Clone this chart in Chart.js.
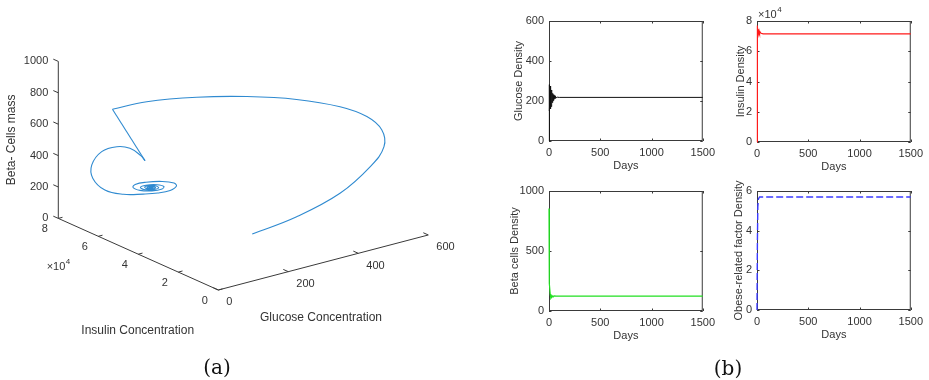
<!DOCTYPE html>
<html>
<head>
<meta charset="utf-8">
<script src="https://cdn.jsdelivr.net/npm/chart.js@4.4.1/dist/chart.umd.min.js"></script>
<style>
  body { margin: 0; background: #fff; width: 929px; height: 380px; position: relative; overflow: hidden; }
  canvas { position: absolute; }
  .cap { position: absolute; font-family: 'DejaVu Serif', serif; font-size: 20px; line-height: 20px; color: #111; transform: translateX(-50%); }
</style>
</head>
<body>
<canvas id="fase" width="460" height="380" style="left:0;top:0"></canvas>
<canvas id="glucosa"></canvas>
<canvas id="insulina"></canvas>
<canvas id="beta"></canvas>
<canvas id="obesidad"></canvas>
<div class="cap" style="left:217px;top:357px">(a)</div>
<div class="cap" style="left:728px;top:358px">(b)</div>

<script>
// Trayectoria 3D: glucosa, insulina, masa de celulas beta (arco, esquina, espiral)
const trajGlucose = [97, 241, 382, 485, 542, 553, 533, 485, 395, 293, 190, 87, 29,
  225, 212, 176, 133, 84, 50, 47, 76, 129,
  194, 236, 271, 289, 282, 248, 202, 171, 165, 185, 219, 248, 253, 233, 202, 186,
  196, 222, 238, 231, 211, 198, 208, 225, 229, 216, 205, 213, 222, 215, 211, 215];
const trajInsulin = [0, 3000, 6000, 9000, 12000, 15000, 19000, 24000, 30000, 37000, 44000, 51000, 58000,
  76000, 76000, 75000, 74000, 73000, 72000, 71000, 70000, 70000,
  71500, 71500, 71500, 71500, 71500, 71500, 71500, 71500, 71500, 71500, 71500, 71500, 71500, 71500, 71500, 71500,
  71500, 71500, 71500, 71500, 71500, 71500, 71500, 71500, 71500, 71500, 71500, 71500, 71500, 71500, 71500, 71500];
const trajBeta = [300, 309, 359, 450, 528, 611, 685, 747, 812, 850, 866, 858, 804,
  259, 300, 372, 413, 416, 357, 280, 193, 135,
  90, 72, 68, 86, 109, 139, 161, 165, 149, 119, 96, 91, 104, 127, 142, 138,
  118, 102, 103, 120, 133, 131, 115, 106, 112, 125, 126, 114, 112, 121, 120, 115];
const cornerIdx = 12;

const glucoseTicks3d = [0, 200, 400, 600];
const insulinTicks3d = [0, 20000, 40000, 60000, 80000];
const betaTicks3d = [0, 200, 400, 600, 800, 1000];

// Series temporales (dias)
const dayTicks = [0, 500, 1000, 1500];
const glucoseDays = [0, 1, 2, 3, 5, 8, 11, 14, 17, 20, 23, 26, 29, 32, 36, 40, 44, 48, 53, 58, 64, 70, 80, 100, 1500];
const glucoseVals = [0, 60, 110, 180, 282, 150, 275, 160, 265, 172, 255, 182, 246, 192, 238, 202, 232, 207, 227, 212, 223, 216, 219, 218, 218];
const glucoseTicks = [0, 200, 400, 600];
const insulinDays = [0, 1, 2, 3, 4, 6, 8, 10, 13, 16, 20, 25, 30, 40, 60, 1500];
const insulinVals = [0, 40000, 62000, 74000, 77000, 73000, 76000, 71500, 74500, 71800, 73500, 72000, 72800, 71900, 71500, 71500];
const insulinTicks = [0, 20000, 40000, 60000, 80000];
const betaDays = [0, 1, 2, 6, 12, 18, 24, 30, 38, 50, 70, 1500];
const betaVals = [855, 600, 330, 230, 140, 105, 112, 128, 120, 126, 124, 124];
const betaTicks = [0, 500, 1000];
const obeseDays = [0, 4, 8, 14, 25, 1500];
const obeseVals = [0, 3.5, 5.2, 5.6, 5.7, 5.7];
const obeseTicks = [0, 2, 4, 6];

const FONT = "11px 'Liberation Sans', Arial, sans-serif";
const FONT12 = "12px 'Liberation Sans', Arial, sans-serif";
const TXT = '#333';
const AXIS = '#3a3a3a';

// vista oblicua: pixel = origen + g*eje_g + i*eje_i + b*eje_b
const view = { ox: 218.3, oy: 290, gx: 0.35, gy: -0.0917, ix: -0.0020, iy: -0.000895, bz: -0.157 };
function project(g, ins, b) {
  return { x: view.ox + view.gx * g + view.ix * ins, y: view.oy + view.gy * g + view.iy * ins + view.bz * b };
}

function seg(a, b, color, width) {
  return { data: [a, b], showLine: true, borderColor: color || AXIS, borderWidth: width || 1, pointRadius: 0, tension: 0 };
}

const traj = trajGlucose.map((g, k) => project(g, trajInsulin[k], trajBeta[k]));
const blue = '#2f8ad0';
const ds3d = [
  seg(project(0, 0, 0), project(600, 0, 0)),
  seg(project(0, 0, 0), project(0, 80000, 0)),
  seg(project(0, 80000, 0), project(0, 80000, 1000))
];
glucoseTicks3d.forEach(v => ds3d.push(seg(project(v, 0, 0), project(v, 2500, 0))));
insulinTicks3d.forEach(v => ds3d.push(seg(project(0, v, 0), project(12, v, 0))));
betaTicks3d.forEach(v => ds3d.push(seg(project(0, 80000, v), project(0, 82500, v))));
ds3d.push({ data: traj.slice(0, cornerIdx + 1), showLine: true, borderColor: blue, borderWidth: 1.1, pointRadius: 0, tension: 0.4 });
ds3d.push({ data: traj.slice(cornerIdx, cornerIdx + 2), showLine: true, borderColor: blue, borderWidth: 1.1, pointRadius: 0, tension: 0 });
ds3d.push({ data: traj.slice(cornerIdx + 1), showLine: true, borderColor: blue, borderWidth: 1.1, pointRadius: 0, tension: 0.4 });

// etiquetas de los ejes 3D
const labels3d = {
  id: 'labels3d',
  afterDraw(chart) {
    const { ctx, scales: { x, y } } = chart;
    const px = p => ({ x: x.getPixelForValue(p.x), y: y.getPixelForValue(p.y) });
    ctx.save();
    ctx.fillStyle = TXT;
    ctx.font = FONT;
    ctx.textBaseline = 'middle';
    ctx.textAlign = 'right';
    betaTicks3d.forEach(v => { const p = px(project(0, 80000, v)); ctx.fillText(String(v), p.x - 10, p.y); });
    ctx.textAlign = 'center';
    insulinTicks3d.forEach(v => { const p = px(project(0, v, 0)); ctx.fillText(String(v / 1e4), p.x - 13.5, p.y + 11); });
    ctx.textAlign = 'left';
    glucoseTicks3d.forEach(v => { const p = px(project(v, 0, 0)); ctx.fillText(String(v), p.x + 8, p.y + 12.3); });

    const c = px(project(0, 80000, 0));
    ctx.fillText('\u00d710', c.x - 11.6, c.y + 48.3);
    const w = ctx.measureText('\u00d710').width;
    ctx.font = "8px 'Liberation Sans', Arial, sans-serif";
    ctx.fillText('4', c.x - 11.6 + w + 0.5, c.y + 43.5);

    ctx.font = FONT12;
    ctx.textAlign = 'center';
    const gm = px(project(300, 0, 0));
    ctx.fillText('Glucose Concentration', gm.x - 2.3, gm.y + 55.2);
    const im = px(project(0, 40000, 0));
    ctx.fillText('Insulin Concentration', im.x - 0.6, im.y + 76.8);
    const bm = px(project(0, 80000, 500));
    ctx.translate(bm.x - 46.6, bm.y);
    ctx.rotate(-Math.PI / 2);
    ctx.fillText('Beta- Cells mass', 0, 0);
    ctx.restore();
  }
};

new Chart(document.getElementById('fase'), {
  type: 'scatter',
  data: { datasets: ds3d },
  options: {
    responsive: false, animation: false, devicePixelRatio: 1,
    layout: { padding: 0 },
    plugins: { legend: { display: false }, tooltip: { enabled: false } },
    scales: {
      x: { type: 'linear', display: false, min: 0, max: 460 },
      y: { type: 'linear', display: false, min: 0, max: 380, reverse: true }
    }
  },
  plugins: [labels3d]
});

// marco tipo caja con marcas hacia adentro y titulos (debajo de las curvas)
const frame = {
  id: 'frame',
  beforeDatasetsDraw(chart, args, o) {
    const { ctx, chartArea: a, scales: { x, y } } = chart;
    ctx.save();
    ctx.strokeStyle = AXIS;
    ctx.lineWidth = 1;
    ctx.strokeRect(a.left + 0.5, a.top + 0.5, a.right - a.left - 1, a.bottom - a.top - 1);
    ctx.beginPath();
    x.ticks.forEach(t => {
      const p = Math.round(x.getPixelForValue(t.value)) + 0.5;
      ctx.moveTo(p, a.bottom); ctx.lineTo(p, a.bottom - 2.5);
      ctx.moveTo(p, a.top); ctx.lineTo(p, a.top + 2.5);
    });
    y.ticks.forEach(t => {
      const p = Math.round(y.getPixelForValue(t.value)) + 0.5;
      ctx.moveTo(a.left, p); ctx.lineTo(a.left + 2.5, p);
      ctx.moveTo(a.right, p); ctx.lineTo(a.right - 2.5, p);
    });
    ctx.stroke();
    ctx.fillStyle = TXT;
    ctx.font = FONT;
    ctx.textAlign = 'center';
    ctx.textBaseline = 'middle';
    ctx.fillText('Days', (a.left + a.right) / 2, a.bottom + 24.5);
    if (o.exponent) {
      ctx.textAlign = 'left';
      ctx.fillText('\u00d710', a.left + 1, a.top - 6);
      const w = ctx.measureText('\u00d710').width;
      ctx.font = "8px 'Liberation Sans', Arial, sans-serif";
      ctx.fillText('4', a.left + 1.5 + w, a.top - 11);
      ctx.font = FONT;
      ctx.textAlign = 'center';
    }
    ctx.translate(a.left - o.yGap, (a.top + a.bottom) / 2);
    ctx.rotate(-Math.PI / 2);
    ctx.fillText(o.yTitle, 0, 0);
    ctx.restore();
  }
};

function panel(id, box, days, vals, o) {
  const cv = document.getElementById(id);
  cv.width = box.R - box.L + 66;
  cv.height = box.B - box.T + 48;
  cv.style.left = (box.L - 50) + 'px';
  cv.style.top = (box.T - 14) + 'px';
  const tickFont = { family: "'Liberation Sans', Arial, sans-serif", size: 11 };
  new Chart(cv, {
    type: 'scatter',
    data: {
      datasets: [{
        data: days.map((d, k) => ({ x: d, y: vals[k] })),
        showLine: true, borderColor: o.color, borderWidth: o.width,
        borderDash: o.dash || [], pointRadius: 0, tension: 0, clip: 2
      }]
    },
    options: {
      responsive: false, animation: false, devicePixelRatio: 1,
      layout: { padding: { top: 14, right: 16, left: 0, bottom: 0 } },
      plugins: {
        legend: { display: false }, tooltip: { enabled: false },
        frame: { yTitle: o.title, yGap: o.gap, exponent: o.exponent }
      },
      scales: {
        x: {
          type: 'linear', min: 0, max: 1500,
          afterFit: s => { s.height = 34; },
          afterBuildTicks: s => { s.ticks = dayTicks.map(v => ({ value: v })); },
          grid: { display: false, drawTicks: false }, border: { display: false },
          ticks: { font: tickFont, color: TXT, padding: 5, maxRotation: 0, autoSkip: false, callback: v => String(v) }
        },
        y: {
          type: 'linear', min: o.ticks[0], max: o.ticks[o.ticks.length - 1],
          afterFit: s => { s.width = 50; },
          afterBuildTicks: s => { s.ticks = o.ticks.map(v => ({ value: v })); },
          grid: { display: false, drawTicks: false }, border: { display: false },
          ticks: { font: tickFont, color: TXT, padding: 5, autoSkip: false, callback: o.fmt || (v => String(v)) }
        }
      }
    },
    plugins: [frame]
  });
}

panel('glucosa', { L: 549, T: 21, R: 704, B: 141 }, glucoseDays, glucoseVals,
  { color: '#111', width: 1, title: 'Glucose Density', gap: 30, ticks: glucoseTicks });
panel('insulina', { L: 757, T: 21, R: 912, B: 142 }, insulinDays, insulinVals,
  { color: '#ff1a1a', width: 1.2, title: 'Insulin Density', gap: 16.5, ticks: insulinTicks, exponent: true, fmt: v => String(v / 1e4) });
panel('beta', { L: 549, T: 191, R: 704, B: 311 }, betaDays, betaVals,
  { color: '#22e022', width: 1.2, title: 'Beta cells Density', gap: 34, ticks: betaTicks });
panel('obesidad', { L: 757, T: 191, R: 912, B: 310 }, obeseDays, obeseVals,
  { color: '#3b3bff', width: 1.4, dash: [7, 3], title: 'Obese-related factor Density', gap: 18, ticks: obeseTicks });
</script>
</body>
</html>
